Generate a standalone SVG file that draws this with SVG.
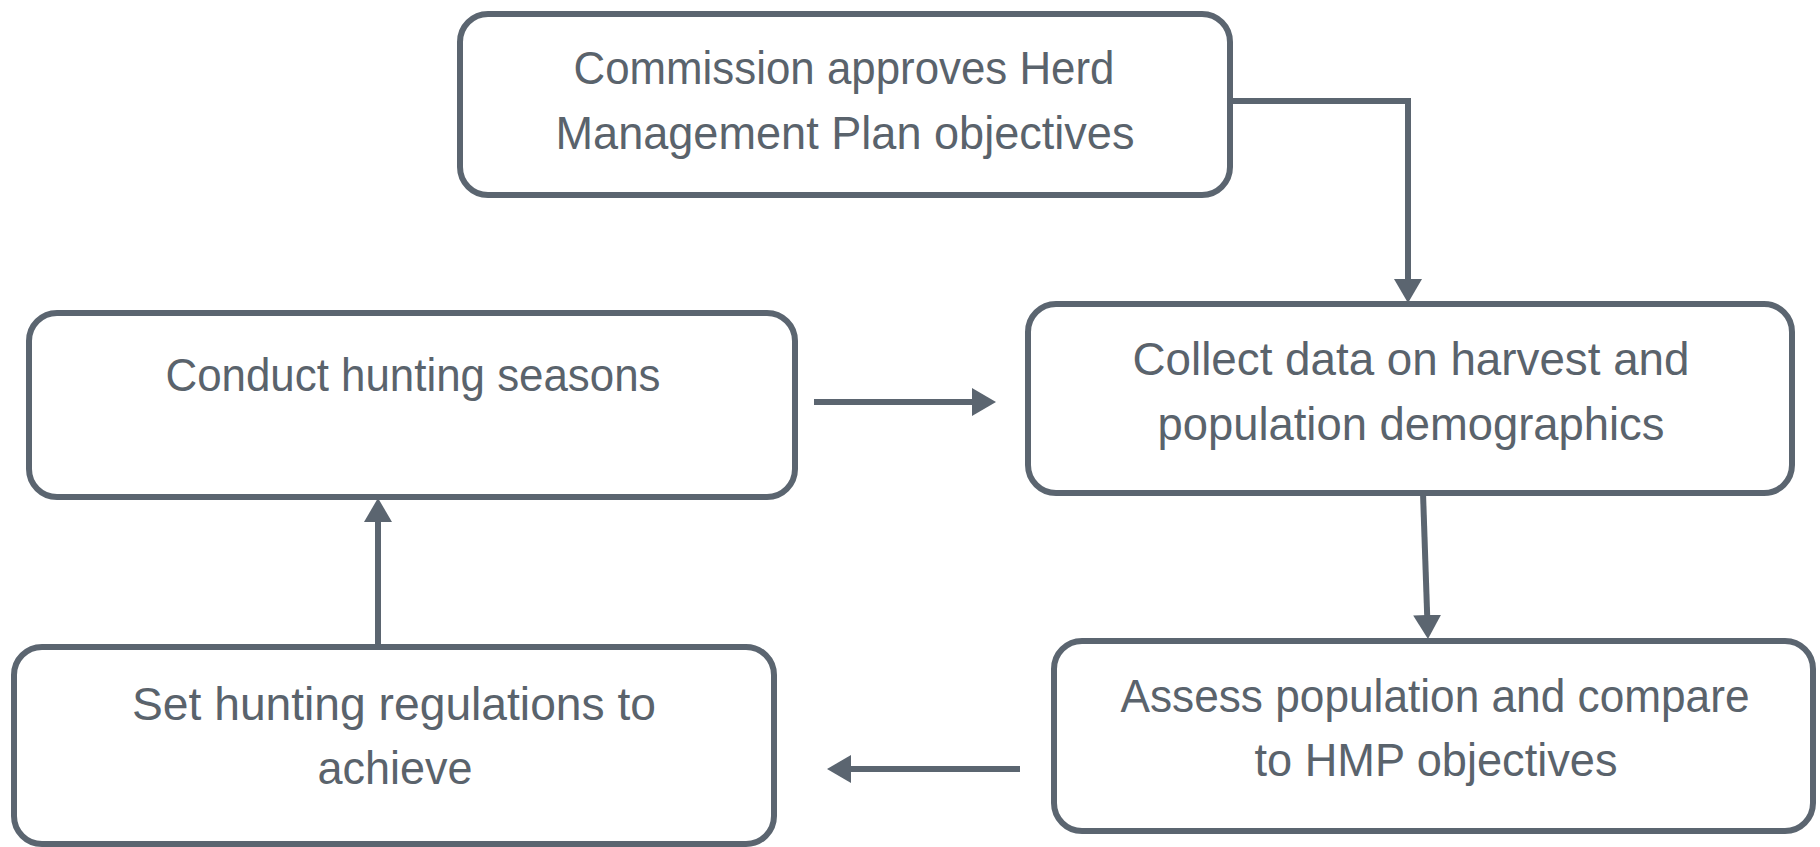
<svg xmlns="http://www.w3.org/2000/svg" width="1820" height="847" viewBox="0 0 1820 847">
<style>
.box{fill:#ffffff;stroke:#5b6570;stroke-width:6}
.lbl{font-family:"Liberation Sans",Arial,sans-serif;font-size:47px;fill:#5a636c;text-anchor:middle}
.conn{fill:none;stroke:#5b6570;stroke-width:6}
</style>
<defs>
<marker id="arr" viewBox="0 0 24 28" refX="1" refY="14" markerWidth="24" markerHeight="28" markerUnits="userSpaceOnUse" orient="auto">
<path d="M0,0 L24,14 L0,28 Z" fill="#5b6570"/>
</marker>
</defs>
<rect width="1820" height="847" fill="#ffffff"/>
<g id="connectors">
<path class="conn" d="M1230,101 H1408 V280" marker-end="url(#arr)"/>
<path class="conn" d="M814,402 H973" marker-end="url(#arr)"/>
<path class="conn" d="M1423,493 L1427.2,616" marker-end="url(#arr)"/>
<path class="conn" d="M1020,769 H850" marker-end="url(#arr)"/>
<path class="conn" d="M378,644 V521" marker-end="url(#arr)"/>
</g>
<g id="node-commission">
<rect class="box" x="460" y="14" width="770" height="181" rx="28"/>
<text class="lbl" x="844" y="84" textLength="541" lengthAdjust="spacingAndGlyphs">Commission approves Herd</text>
<text class="lbl" x="845" y="149" textLength="579" lengthAdjust="spacingAndGlyphs">Management Plan objectives</text>
</g>
<g id="node-collect">
<rect class="box" x="1028" y="304" width="764" height="189" rx="28"/>
<text class="lbl" x="1411" y="375" textLength="557" lengthAdjust="spacingAndGlyphs">Collect data on harvest and</text>
<text class="lbl" x="1411" y="440" textLength="507" lengthAdjust="spacingAndGlyphs">population demographics</text>
</g>
<g id="node-conduct">
<rect class="box" x="29" y="313" width="766" height="184" rx="28"/>
<text class="lbl" x="413" y="391" textLength="495" lengthAdjust="spacingAndGlyphs">Conduct hunting seasons</text>
</g>
<g id="node-set">
<rect class="box" x="14" y="647" width="760" height="197" rx="28"/>
<text class="lbl" x="394" y="720" textLength="524" lengthAdjust="spacingAndGlyphs">Set hunting regulations to</text>
<text class="lbl" x="395" y="784" textLength="155" lengthAdjust="spacingAndGlyphs">achieve</text>
</g>
<g id="node-assess">
<rect class="box" x="1054" y="641" width="759" height="190" rx="28"/>
<text class="lbl" x="1435" y="712" textLength="629" lengthAdjust="spacingAndGlyphs">Assess population and compare</text>
<text class="lbl" x="1436" y="776" textLength="363" lengthAdjust="spacingAndGlyphs">to HMP objectives</text>
</g>
</svg>
